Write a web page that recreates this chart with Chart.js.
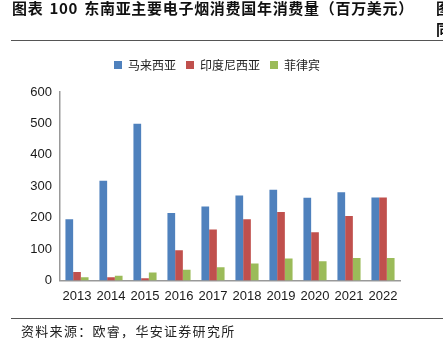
<!DOCTYPE html>
<html lang="zh">
<head>
    <meta charset="UTF-8">
    <title>东南亚主要电子烟消费国年消费量</title>
    <script src="https://cdn.jsdelivr.net/npm/chart.js"></script>
    <style>
        body { margin: 0; background: #fff; }
        .wrap { position: relative; width: 443px; height: 340px; overflow: hidden; }
        canvas { position: absolute; left: 0; top: 0; }
        .txt { position: absolute; white-space: nowrap; font-family: "Noto Sans CJK SC", sans-serif; color: #111; }
        .title { left: 12px; top: -2px; font-size: 15px; font-weight: 700; line-height: 20px; letter-spacing: 0.7px; word-spacing: 2px; }
        .side1 { left: 436px; top: -2px; font-size: 15px; font-weight: 700; line-height: 20px; }
        .side2 { left: 436px; top: 19px; font-size: 15px; font-weight: 700; line-height: 20px; }
        .rule { position: absolute; left: 11px; width: 432px; height: 0; border-top: 1.5px solid #555; }
        .source { left: 21px; top: 322px; font-size: 13px; line-height: 18px; letter-spacing: 1.3px; color: #222; }
    </style>
</head>
<body>
    <div class="wrap">
        <canvas id="vapeChart" width="443" height="340"></canvas>
        <div class="txt title">图表 100 东南亚主要电子烟消费国年消费量（百万美元）</div>
        <div class="txt side1">图</div>
        <div class="txt side2">同</div>
        <div class="rule" style="top: 40px;"></div>
        <div class="rule" style="top: 318px;"></div>
        <div class="txt source">资料来源：欧睿，华安证券研究所</div>
    </div>

    <script>
        var years = ['2013', '2014', '2015', '2016', '2017', '2018', '2019', '2020', '2021', '2022'];
        var seriesNames = ['马来西亚', '印度尼西亚', '菲律宾'];
        var malaysia = [195, 317, 499, 215, 235, 270, 289, 263, 281, 264];
        var indonesia = [27, 10, 7, 96, 162, 195, 218, 153, 205, 264];
        var philippines = [10, 15, 25, 34, 42, 54, 70, 61, 71, 71];
        var yTicks = [0, 100, 200, 300, 400, 500, 600];

        // legend sits a bit right of centre, with a gap below it
        var legendTweak = {
            id: 'legendTweak',
            beforeInit: function (chart) {
                var origFit = chart.legend.fit;
                chart.legend.fit = function () {
                    origFit.call(this);
                    this.height += 11;
                };
            },
            afterLayout: function (chart) {
                chart.legend.left += 17;
                chart.legend.right += 17;
            }
        };

        var ctx = document.getElementById('vapeChart').getContext('2d');
        new Chart(ctx, {
            type: 'bar',
            data: {
                labels: years,
                datasets: [
                    { label: seriesNames[0], data: malaysia, backgroundColor: '#4F81BD' },
                    { label: seriesNames[1], data: indonesia, backgroundColor: '#C0504D' },
                    { label: seriesNames[2], data: philippines, backgroundColor: '#9BBB59' }
                ]
            },
            options: {
                responsive: false,
                animation: false,
                devicePixelRatio: 1,
                datasets: {
                    bar: { categoryPercentage: 0.68, barPercentage: 1.0, borderWidth: 0 }
                },
                layout: {
                    padding: { left: 0, right: 43, top: 49, bottom: 28 }
                },
                plugins: {
                    legend: {
                        position: 'top',
                        labels: {
                            boxWidth: 8,
                            boxHeight: 8,
                            padding: 10,
                            color: '#222',
                            font: { family: '"Noto Sans CJK SC", sans-serif', size: 12 }
                        }
                    },
                    tooltip: { enabled: false }
                },
                scales: {
                    x: {
                        grid: { display: false, drawTicks: false },
                        border: { display: true, color: '#999', width: 1.5 },
                        ticks: {
                            padding: 8,
                            maxRotation: 0,
                            minRotation: 0,
                            autoSkip: false,
                            color: '#1a1a1a',
                            font: { family: '"Liberation Sans", Arial, sans-serif', size: 13 }
                        }
                    },
                    y: {
                        min: 0,
                        max: 600,
                        afterFit: function (scale) { scale.width = 60; },
                        afterBuildTicks: function (scale) {
                            scale.ticks = yTicks.map(function (v) { return { value: v }; });
                        },
                        grid: { display: false, drawTicks: false },
                        border: { display: true, color: '#999', width: 1.5 },
                        ticks: {
                            padding: 8,
                            color: '#1a1a1a',
                            font: { family: '"Liberation Sans", Arial, sans-serif', size: 13 }
                        }
                    }
                }
            },
            plugins: [legendTweak]
        });
    </script>
</body>
</html>
